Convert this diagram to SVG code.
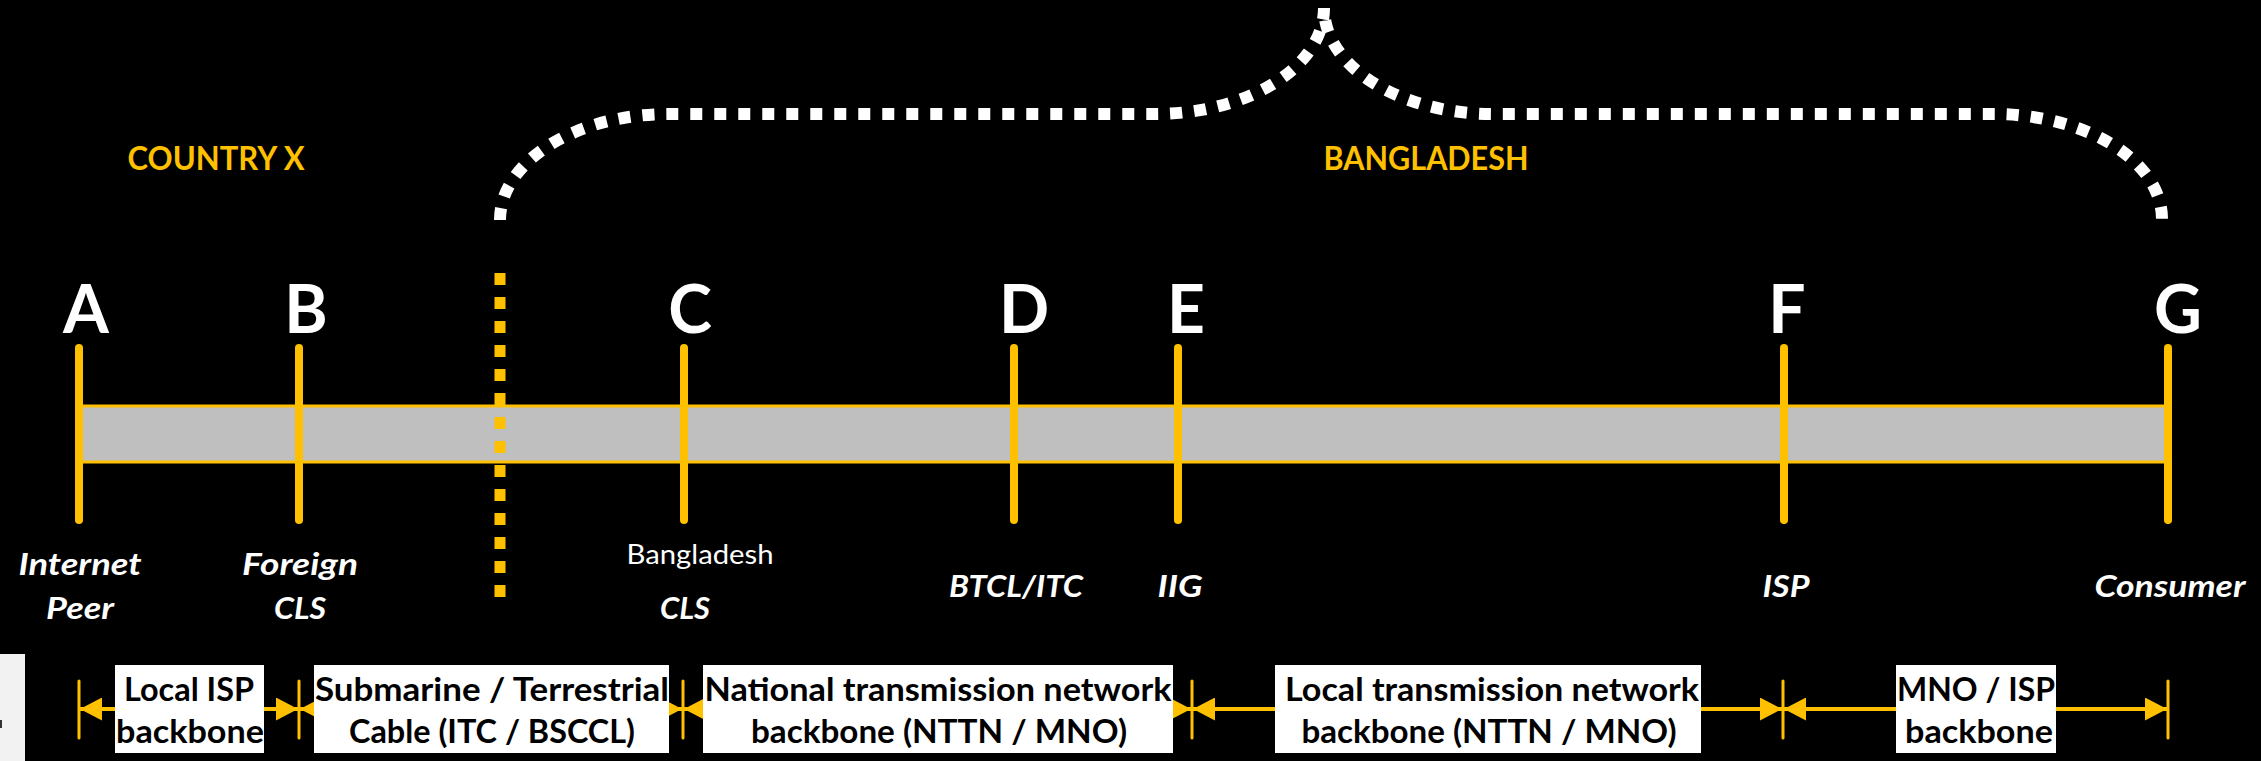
<svg xmlns="http://www.w3.org/2000/svg" width="2261" height="761" viewBox="0 0 2261 761">
<defs>
<style>
.bg{fill:#000}
.tick{stroke:#FFC000;stroke-width:8;stroke-linecap:round;fill:none}
.etick{stroke:#FFC000;stroke-width:3;stroke-linecap:round;fill:none}
.aline{stroke:#FFC000;stroke-width:4;fill:none}
.letter{font-family:Lato,'Open Sans','Liberation Sans',sans-serif;font-weight:700;font-size:66px;fill:#fff;text-anchor:middle}
.country{font-family:Lato,'Open Sans','Liberation Sans',sans-serif;font-weight:700;font-size:32px;fill:#FFC000;text-anchor:middle}
.lbl{font-family:Lato,'Open Sans','Liberation Sans',sans-serif;font-weight:700;font-style:italic;font-size:31px;fill:#fff;text-anchor:middle}
.lblr{font-family:Lato,'Open Sans','Liberation Sans',sans-serif;font-weight:400;font-size:27px;fill:#fff;text-anchor:middle}
.box{fill:#fff}
.bt{font-family:Lato,'Open Sans','Liberation Sans',sans-serif;font-weight:700;font-size:32px;fill:#000;text-anchor:middle}
</style>
<marker id="ah" markerUnits="userSpaceOnUse" markerWidth="22" markerHeight="23" refX="22" refY="11.5" orient="auto-start-reverse">
<path d="M0,0 L22,11.5 L0,23 Z" fill="#FFC000"/>
</marker>
</defs>
<rect class="bg" x="0" y="0" width="2261" height="761"/>

<g id="bar">
<rect x="79" y="406" width="2089" height="56" fill="#BFBFBF" stroke="#FFC000" stroke-width="3"/>
</g>

<g id="border-line">
<line x1="500" y1="273" x2="500" y2="597" stroke="#FFC000" stroke-width="11" stroke-dasharray="12 12"/>
</g>

<g id="brace">
<path d="M 500 220 A 169 106 0 0 1 669 114 L 1155 114 A 169 106 0 0 0 1324 8 A 169 106 0 0 0 1493 114 L 1993 114 A 169 105 0 0 1 2162 219" fill="none" stroke="#fff" stroke-width="12" stroke-dasharray="12 12"/>
</g>

<g id="country-x"><text class="country" x="216" y="170" textLength="177" lengthAdjust="spacingAndGlyphs">COUNTRY X</text></g>
<g id="bangladesh"><text class="country" x="1426" y="170" textLength="205" lengthAdjust="spacingAndGlyphs">BANGLADESH</text></g>

<g id="node-A">
<line class="tick" x1="79" y1="348" x2="79" y2="520"/>
<text class="letter" x="86" y="333">A</text>
<text class="lbl" x="80" y="575" textLength="123" lengthAdjust="spacingAndGlyphs">Internet</text>
<text class="lbl" x="80" y="619" textLength="68" lengthAdjust="spacingAndGlyphs">Peer</text>
</g>
<g id="node-B">
<line class="tick" x1="299" y1="348" x2="299" y2="520"/>
<text class="letter" x="306" y="333">B</text>
<text class="lbl" x="300" y="575" textLength="116" lengthAdjust="spacingAndGlyphs">Foreign</text>
<text class="lbl" x="300" y="619" textLength="52" lengthAdjust="spacingAndGlyphs">CLS</text>
</g>
<g id="node-C">
<line class="tick" x1="684" y1="348" x2="684" y2="520"/>
<text class="letter" x="690" y="333">C</text>
<text class="lblr" x="700" y="564" textLength="147" lengthAdjust="spacingAndGlyphs">Bangladesh</text>
<text class="lbl" x="685" y="619" textLength="50" lengthAdjust="spacingAndGlyphs">CLS</text>
</g>
<g id="node-D">
<line class="tick" x1="1014" y1="348" x2="1014" y2="520"/>
<text class="letter" x="1024" y="333">D</text>
<text class="lbl" x="1016" y="597" textLength="134" lengthAdjust="spacingAndGlyphs">BTCL/ITC</text>
</g>
<g id="node-E">
<line class="tick" x1="1178" y1="348" x2="1178" y2="520"/>
<text class="letter" x="1186" y="333">E</text>
<text class="lbl" x="1180" y="597" textLength="45" lengthAdjust="spacingAndGlyphs">IIG</text>
</g>
<g id="node-F">
<line class="tick" x1="1784" y1="348" x2="1784" y2="520"/>
<text class="letter" x="1787" y="333">F</text>
<text class="lbl" x="1786" y="597" textLength="47" lengthAdjust="spacingAndGlyphs">ISP</text>
</g>
<g id="node-G">
<line class="tick" x1="2168" y1="348" x2="2168" y2="520"/>
<text class="letter" x="2178" y="333">G</text>
<text class="lbl" x="2170" y="597" textLength="151" lengthAdjust="spacingAndGlyphs">Consumer</text>
</g>

<g id="connectors">
<line class="aline" x1="80" y1="709" x2="298" y2="709" marker-start="url(#ah)" marker-end="url(#ah)"/>
<line class="aline" x1="300" y1="709" x2="682" y2="709" marker-start="url(#ah)" marker-end="url(#ah)"/>
<line class="aline" x1="684" y1="709" x2="1191" y2="709" marker-start="url(#ah)" marker-end="url(#ah)"/>
<line class="aline" x1="1193" y1="709" x2="1782" y2="709" marker-start="url(#ah)" marker-end="url(#ah)"/>
<line class="aline" x1="1784" y1="709" x2="2167" y2="709" marker-start="url(#ah)" marker-end="url(#ah)"/>
<line class="etick" x1="79" y1="681" x2="79" y2="738"/>
<line class="etick" x1="299" y1="681" x2="299" y2="738"/>
<line class="etick" x1="683" y1="681" x2="683" y2="738"/>
<line class="etick" x1="1192" y1="681" x2="1192" y2="738"/>
<line class="etick" x1="1783" y1="681" x2="1783" y2="738"/>
<line class="etick" x1="2168" y1="681" x2="2168" y2="738"/>
</g>

<g id="seg-local-isp">
<rect class="box" x="115" y="665" width="149" height="88"/>
<text class="bt" x="189" y="701" textLength="130" lengthAdjust="spacingAndGlyphs">Local ISP</text>
<text class="bt" x="190" y="743" textLength="148" lengthAdjust="spacingAndGlyphs">backbone</text>
</g>
<g id="seg-submarine">
<rect class="box" x="314" y="665" width="355" height="88"/>
<text class="bt" x="492" y="701" textLength="354" lengthAdjust="spacingAndGlyphs">Submarine / Terrestrial</text>
<text class="bt" x="492" y="743" textLength="286" lengthAdjust="spacingAndGlyphs">Cable (ITC / BSCCL)</text>
</g>
<g id="seg-national">
<rect class="box" x="703" y="665" width="470" height="88"/>
<text class="bt" x="938" y="701" textLength="467" lengthAdjust="spacingAndGlyphs">National transmission network</text>
<text class="bt" x="939" y="743" textLength="376" lengthAdjust="spacingAndGlyphs">backbone (NTTN / MNO)</text>
</g>
<g id="seg-local-transmission">
<rect class="box" x="1275" y="665" width="426" height="88"/>
<text class="bt" x="1492" y="701" textLength="414" lengthAdjust="spacingAndGlyphs">Local transmission network</text>
<text class="bt" x="1489" y="743" textLength="375" lengthAdjust="spacingAndGlyphs">backbone (NTTN / MNO)</text>
</g>
<g id="seg-mno-isp">
<rect class="box" x="1896" y="665" width="160" height="88"/>
<text class="bt" x="1976" y="701" textLength="158" lengthAdjust="spacingAndGlyphs">MNO / ISP</text>
<text class="bt" x="1979" y="743" textLength="148" lengthAdjust="spacingAndGlyphs">backbone</text>
</g>

<g id="edge-fragment">
<rect x="0" y="654" width="25" height="107" fill="#F2F2F2"/>
<rect x="0" y="720" width="2" height="8" fill="#333"/>
</g>
</svg>
